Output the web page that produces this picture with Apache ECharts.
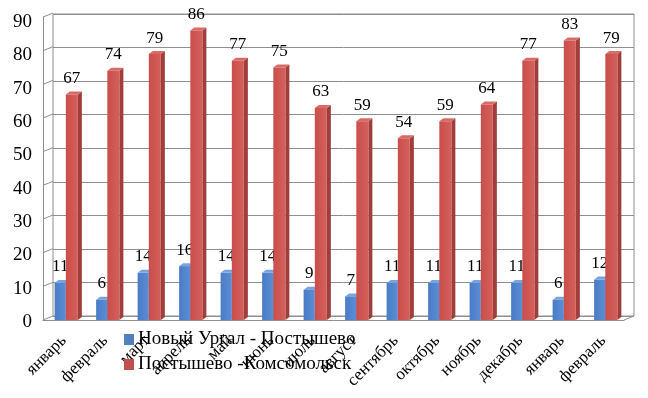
<!DOCTYPE html>
<html><head><meta charset="utf-8">
<script src="https://cdn.jsdelivr.net/npm/echarts@6/dist/echarts.min.js"></script>
<style>html,body{margin:0;padding:0;background:#fff}#c{width:648px;height:398px}</style>
</head><body><div id="c"></div>
<script>
const categories = ['январь','февраль','март','апрель','май','июнь','июль','август','сентябрь','октябрь','ноябрь','декабрь','январь','февраль'];
const seriesNames = ['Новый Ургал - Постышево','Постышево -Комсомольск'];
const valuesUrgal = [11, 6, 14, 16, 14, 14, 9, 7, 11, 11, 11, 11, 6, 12];
const valuesKoms = [67, 74, 79, 86, 77, 75, 63, 59, 54, 59, 64, 77, 83, 79];
const yTicks = [0,10,20,30,40,50,60,70,80,90];

const FONT = '"Liberation Serif","DejaVu Serif",serif';
const GRID_COLOR = '#8e8e8e';

function bar3d(style) {
  return function (params, api) {
    const idx = api.value(0), v = api.value(1);
    const c0 = api.coord([idx, 0]);
    const c1 = api.coord([idx, v]);
    const bw = api.size([1, 0])[0];
    const x0 = c0[0] + bw * style.from, x1 = c0[0] + bw * style.to;
    const y0 = c0[1], y1 = c1[1];
    const dx = 4, dy = -3;
    return {
      type: 'group',
      children: [
        { type: 'polygon', shape: { points: [[x1, y1], [x1 + dx, y1 + dy], [x1 + dx, y0 + dy], [x1, y0]] }, style: { fill: style.side } },
        { type: 'polygon', shape: { points: [[x0, y1], [x0 + dx, y1 + dy], [x1 + dx, y1 + dy], [x1, y1]] }, style: { fill: style.top } },
        { type: 'rect', shape: { x: x0, y: y1, width: x1 - x0, height: y0 - y1 }, style: { fill: new echarts.graphic.LinearGradient(0, 0, 1, 0, [{ offset: 0, color: style.f0 }, { offset: 1, color: style.f1 }]) } },
        { type: 'text', x: (x0 + x1) / 2, y: y1 - 16, style: { text: String(v), font: '17px ' + FONT, fill: '#000', align: 'center', verticalAlign: 'middle' } }
      ]
    };
  };
}

function wallLines(params, api) {
  const v = api.value(0);
  const cs = params.coordSys;
  const y = api.coord([0, v])[1];
  const children = [
    { type: 'line', shape: { x1: cs.x, y1: y, x2: cs.x + 10, y2: y - 4 }, style: { stroke: GRID_COLOR, lineWidth: 1 } }
  ];
  if (v === 0) {
    children.push({ type: 'line', shape: { x1: cs.x + cs.width, y1: y, x2: cs.x + cs.width + 10, y2: y - 4 }, style: { stroke: GRID_COLOR, lineWidth: 1 } });
  }
  return { type: 'group', children };
}

const chart = echarts.init(document.getElementById('c'));
chart.setOption({
  animation: false,
  textStyle: { fontFamily: FONT },
  grid: [
    { left: 43, right: 24, top: 17, bottom: 78 },
    { left: 53, right: 14, top: 14, bottom: 82, show: true, borderColor: GRID_COLOR, borderWidth: 1, backgroundColor: 'transparent' },
    { left: 43, right: 24, top: 22, bottom: 76 }
  ],
  legend: {
    orient: 'vertical', left: 124, top: 330, padding: 0, itemGap: 6,
    itemWidth: 10, itemHeight: 11, icon: 'rect',
    textStyle: { fontFamily: FONT, fontSize: 19, color: '#000', padding: [0, 0, 0, -1] },
    data: seriesNames
  },
  xAxis: [
    { type: 'category', gridIndex: 0, data: categories,
      axisLine: { show: true, lineStyle: { color: GRID_COLOR } }, axisTick: { show: false },
      axisLabel: { rotate: 45, interval: 0, margin: 18, fontFamily: FONT, fontSize: 17, color: '#000' } },
    { type: 'category', gridIndex: 1, data: categories, show: false },
    { type: 'category', gridIndex: 2, data: categories, show: false }
  ],
  yAxis: [
    { type: 'value', gridIndex: 0, min: 0, max: 90, interval: 10,
      axisLine: { show: true, lineStyle: { color: GRID_COLOR } }, axisTick: { show: false }, splitLine: { show: false },
      axisLabel: { show: false } },
    { type: 'value', gridIndex: 1, min: 0, max: 90, interval: 10,
      axisLine: { show: false }, axisTick: { show: false }, axisLabel: { show: false },
      splitLine: { show: true, lineStyle: { color: GRID_COLOR, width: 1 } } },
    { type: 'value', gridIndex: 2, min: 0, max: 90, interval: 10,
      axisLine: { show: false }, axisTick: { show: false }, splitLine: { show: false },
      axisLabel: { margin: 11, fontFamily: FONT, fontSize: 19, color: '#000' } }
  ],
  series: [
    { type: 'custom', name: 'wall', xAxisIndex: 0, yAxisIndex: 0, z: 1, silent: true,
      data: yTicks.map(v => [v]), encode: { x: -1, y: 0 }, renderItem: wallLines },
    { type: 'custom', name: seriesNames[0], xAxisIndex: 0, yAxisIndex: 0, z: 3,
      itemStyle: { color: '#4F81BD' },
      data: valuesUrgal.map((v, i) => [i, v]), encode: { x: 0, y: 1 },
      renderItem: bar3d({ from: -0.22, to: 0.05, f0: '#4A7CC4', f1: '#5A8ED6', side: '#3C65A0', top: '#79A3DC' }) },
    { type: 'custom', name: seriesNames[1], xAxisIndex: 0, yAxisIndex: 0, z: 3,
      itemStyle: { color: '#C0504D' },
      data: valuesKoms.map((v, i) => [i, v]), encode: { x: 0, y: 1 },
      renderItem: bar3d({ from: 0.05, to: 0.34, f0: '#C94E4B', f1: '#D4605C', side: '#A03E3C', top: '#D86B67' }) }
  ]
});
</script></body></html>
